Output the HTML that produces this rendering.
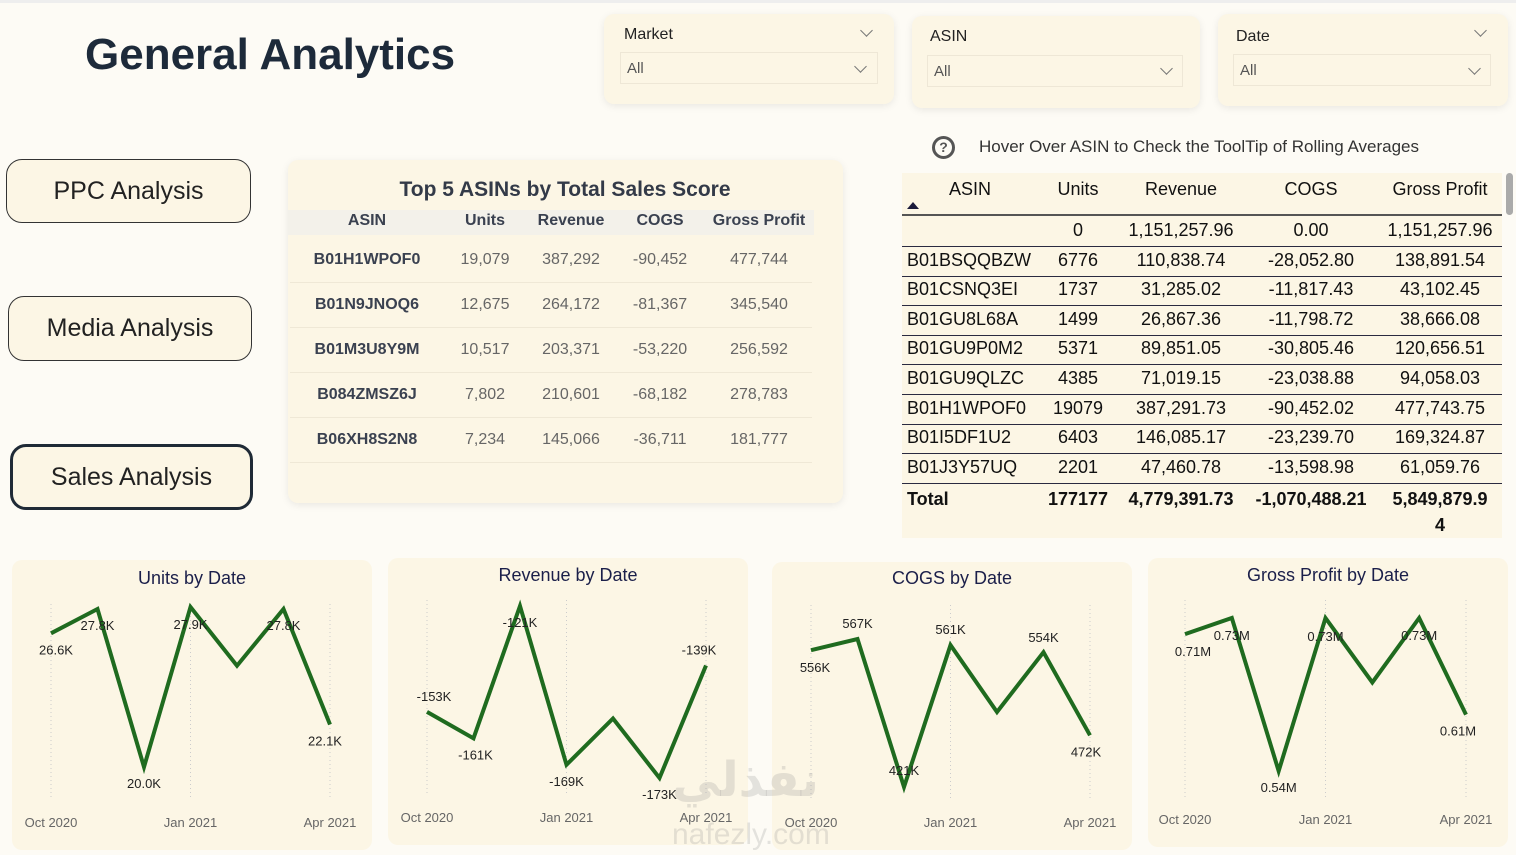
<!DOCTYPE html>
<html><head><meta charset="utf-8">
<style>
*{box-sizing:border-box;margin:0;padding:0}
body{width:1516px;height:855px;background:#fdfbf5;font-family:"Liberation Sans","DejaVu Sans",sans-serif;position:relative;overflow:hidden;color:#222}
.abs{position:absolute}
.card{position:absolute;background:#fcf6e5;border-radius:10px;box-shadow:0 2px 8px rgba(0,0,0,0.08)}
.btn{position:absolute;background:#fcf6e5;border:1px solid #333;border-radius:16px;display:flex;align-items:center;justify-content:center;font-size:25px;color:#222}
.slab{font-size:16px;color:#222;position:absolute}
.sbox{position:absolute;border:1px solid #eee7d6;background:#fcf6e5;font-size:15px;color:#555;padding-left:6px;display:flex;align-items:center}
.chev{position:absolute;width:9px;height:9px;border-right:1.3px solid #777;border-bottom:1.3px solid #777;transform:rotate(45deg)}
.t5 div{position:absolute;transform:translateX(-50%);white-space:nowrap}
.rt{position:absolute;font-size:18px;color:#111;white-space:nowrap}
.rline{position:absolute;left:902px;width:600px;height:1px;background:#2a2a40}
</style></head><body>
<div class="abs" style="left:0;top:0;width:1516px;height:3px;background:#eee"></div>
<div class="abs" style="left:85px;top:30px;font-size:44px;font-weight:bold;color:#1d2a3a">General Analytics</div>

<div class="card" style="left:604px;top:14px;width:290px;height:90px">
 <div class="slab" style="left:20px;top:12px">Market</div><div class="chev" style="left:258px;top:12px"></div>
 <div class="sbox" style="left:16px;top:38px;width:258px;height:32px">All</div><div class="chev" style="left:252px;top:48px"></div>
</div>
<div class="card" style="left:912px;top:16px;width:288px;height:92px">
 <div class="slab" style="left:18px;top:12px">ASIN</div>
 <div class="sbox" style="left:15px;top:39px;width:256px;height:32px">All</div><div class="chev" style="left:250px;top:48px"></div>
</div>
<div class="card" style="left:1218px;top:14px;width:290px;height:92px">
 <div class="slab" style="left:18px;top:14px">Date</div><div class="chev" style="left:258px;top:12px"></div>
 <div class="sbox" style="left:15px;top:40px;width:258px;height:32px">All</div><div class="chev" style="left:252px;top:50px"></div>
</div>

<div class="btn" style="left:6px;top:159px;width:245px;height:64px">PPC Analysis</div>
<div class="btn" style="left:8px;top:296px;width:244px;height:65px">Media Analysis</div>
<div class="btn" style="left:10px;top:444px;width:243px;height:66px;border:3px solid #1f2a36">Sales Analysis</div>

<div class="card t5" style="left:288px;top:160px;width:555px;height:343px">
 <div style="left:277px;top:18px;font-size:21px;font-weight:bold;color:#333a48">Top 5 ASINs by Total Sales Score</div>
 <div style="left:263px;top:50px;width:526px;height:25px;background:#f3f1ea"></div>
</div>
<div id="t5"></div>

<div class="abs" style="left:932px;top:136px;width:23px;height:23px;border:3px solid #555;border-radius:50%;font-size:14px;font-weight:bold;text-align:center;line-height:17px;color:#555">?</div>
<div class="abs" style="left:979px;top:137px;font-size:17px;color:#333">Hover Over ASIN to Check the ToolTip of Rolling Averages</div>
<div class="abs" style="left:902px;top:173px;width:600px;height:365px;background:#fcf6e5"></div>
<div class="abs" style="left:1506px;top:173px;width:7px;height:42px;background:#aaa;border-radius:4px"></div>
<div class="abs" style="left:907px;top:202px;width:0;height:0;border-left:6px solid transparent;border-right:6px solid transparent;border-bottom:7px solid #1a1a3a"></div>
<div id="rt"></div>

<div id="charts"></div>
<div class="abs" style="left:672px;top:752px;font-size:48px;font-weight:bold;color:rgba(150,150,150,0.25)">نفذلي</div>
<div class="abs" style="left:672px;top:818px;font-size:30px;color:rgba(150,150,150,0.25)">nafezly.com</div>

<script>
const t5Headers=["ASIN","Units","Revenue","COGS","Gross Profit"];
const t5Asin=["B01H1WPOF0","B01N9JNOQ6","B01M3U8Y9M","B084ZMSZ6J","B06XH8S2N8"];
const t5Units=["19,079","12,675","10,517","7,802","7,234"];
const t5Rev=["387,292","264,172","203,371","210,601","145,066"];
const t5Cogs=["-90,452","-81,367","-53,220","-68,182","-36,711"];
const t5Gp=["477,744","345,540","256,592","278,783","181,777"];
(function(){
 const c=document.getElementById('t5');const xs=[367,485,571,660,759];
 const add=(txt,x,y,st,name)=>{const d=document.createElement('div');d.className='abs';d.textContent=txt;
  d.style.cssText=`left:${x}px;top:${y}px;transform:translateX(-50%);white-space:nowrap;${st}`;
  
  c.appendChild(d);};
 t5Headers.forEach((h,i)=>add(h,xs[i],212,'font-size:16px;font-weight:bold;color:#3a4150','top5-header'));
 const cols=[t5Asin,t5Units,t5Rev,t5Cogs,t5Gp];
 t5Asin.forEach((a,r)=>{const y=251+r*45;
  cols.forEach((col,i)=>add(col[r],xs[i],y,i==0?'font-size:16px;font-weight:bold;color:#3a4150':'font-size:16px;color:#666','top5-cell'));
  const l=document.createElement('div');l.className='abs';l.style.cssText=`left:290px;top:${y+31}px;width:522px;height:1px;background:#efe8d6`;
  
  c.appendChild(l);});
})();

const rtAsin=["","B01BSQQBZW","B01CSNQ3EI","B01GU8L68A","B01GU9P0M2","B01GU9QLZC","B01H1WPOF0","B01I5DF1U2","B01J3Y57UQ"];
const rtUnits=["0","6776","1737","1499","5371","4385","19079","6403","2201"];
const rtRev=["1,151,257.96","110,838.74","31,285.02","26,867.36","89,851.05","71,019.15","387,291.73","146,085.17","47,460.78"];
const rtCogs=["0.00","-28,052.80","-11,817.43","-11,798.72","-30,805.46","-23,038.88","-90,452.02","-23,239.70","-13,598.98"];
const rtGp=["1,151,257.96","138,891.54","43,102.45","38,666.08","120,656.51","94,058.03","477,743.75","169,324.87","61,059.76"];
const rtTotal=["Total","177177","4,779,391.73","-1,070,488.21","5,849,879.9"];
(function(){
 const c=document.getElementById('rt');const centers=[null,1078,1181,1311,1440];
 const add=(txt,x,y,align,st,name)=>{const d=document.createElement('div');d.className='rt';d.textContent=txt;
  d.style.cssText+=(align=='l'?`left:${x}px;`:`left:${x}px;transform:translateX(-50%);`)+`top:${y}px;`+st;
  
  c.appendChild(d);};
 [["ASIN",970],["Units",1078],["Revenue",1181],["COGS",1311],["Gross Profit",1440]].forEach(h=>add(h[0],h[1],179,'c','','table-header'));
 const ln=(y,h,col,name)=>{const l=document.createElement('div');l.className='rline';l.style.top=y+'px';l.style.height=h+'px';l.style.background=col;
  
  c.appendChild(l);};
 ln(214,2,'#555','header-line');
 const cols=[rtAsin,rtUnits,rtRev,rtCogs,rtGp];
 rtAsin.forEach((a,r)=>{const y=220+r*29.6;
  cols.forEach((col,i)=>add(col[r],i==0?907:centers[i],y,i==0?'l':'c','','table-cell'));
  ln(y+26,1,'#2a2a40','row-line');});
 rtTotal.forEach((t,i)=>add(t,i==0?907:centers[i],489,i==0?'l':'c','font-weight:bold','total-cell'));
 add("4",1440,515,'c','font-weight:bold','total-wrap');
})();

// charts
const months=["Oct 2020","Nov 2020","Dec 2020","Jan 2021","Feb 2021","Mar 2021","Apr 2021"];
const unitsVals=[26.6,27.8,20.0,27.9,25.0,27.8,22.1];
const unitsLabels=["26.6K","27.8K","20.0K","27.9K","","27.8K","22.1K"];
const revVals=[-153,-161,-121,-169,-155,-173,-139];
const revLabels=["-153K","-161K","-121K","-169K","","-173K","-139K"];
const cogsVals=[556,567,421,561,495,554,472];
const cogsLabels=["556K","567K","421K","561K","","554K","472K"];
const gpVals=[0.71,0.73,0.54,0.73,0.65,0.73,0.61];
const gpLabels=["0.71M","0.73M","0.54M","0.73M","","0.73M","0.61M"];
const tickIdx=[0,3,6];

const chartDefs=[
 {name:"units",title:"Units by Date",card:[12,560,360,290],titleY:578,x0:51,x1:330,ytop:607,ybot:767,vals:unitsVals,labels:unitsLabels,tickY:822,gTop:604,gBot:800,
  lo:[[5,16],[0,16],[0,16],[0,17],[0,0],[0,16],[-5,16]]},
 {name:"revenue",title:"Revenue by Date",card:[388,558,360,287],titleY:575,x0:427,x1:706,ytop:606,ybot:778,vals:revVals,labels:revLabels,tickY:817,gTop:600,gBot:795,
  lo:[[7,-16],[2,16],[0,16],[0,16],[0,0],[0,16],[-7,-16]]},
 {name:"cogs",title:"COGS by Date",card:[772,562,360,288],titleY:578,x0:811,x1:1090,ytop:639,ybot:787,vals:cogsVals,labels:cogsLabels,tickY:822,gTop:605,gBot:800,
  lo:[[4,17],[0,-16],[0,-17],[0,-16],[0,0],[0,-15],[-4,16]]},
 {name:"gross-profit",title:"Gross Profit by Date",card:[1148,558,360,289],titleY:575,x0:1185,x1:1466,ytop:618,ybot:771,vals:gpVals,labels:gpLabels,tickY:819,gTop:600,gBot:798,
  lo:[[8,17],[0,17],[0,16],[0,18],[0,0],[0,17],[-8,16]]}
];
(function(){
 const NS="http://www.w3.org/2000/svg";
 const svg=document.createElementNS(NS,'svg');
 svg.setAttribute('width','1516');svg.setAttribute('height','855');
 svg.style.cssText='position:absolute;left:0;top:0';
 
 
 const el=(t,a)=>{const e=document.createElementNS(NS,t);for(const k in a)e.setAttribute(k,a[k]);svg.appendChild(e);return e;};
 chartDefs.forEach(cd=>{
  const [cx,cy,cw,ch]=cd.card;
  const r=el('rect',{x:cx,y:cy,width:cw,height:ch,rx:10,fill:'#fcf6e5'});
  
  
  const t=el('text',{x:cx+cw/2,y:cd.titleY+6,'text-anchor':'middle','font-size':18,fill:'#1b1f4a','font-family':'Liberation Sans, sans-serif'});
  t.textContent=cd.title;
  
  
  const v=cd.vals,mx=Math.max(...v),mn=Math.min(...v);
  const xf=i=>cd.x0+(cd.x1-cd.x0)*i/(v.length-1);
  const yf=val=>cd.ytop+(mx-val)/(mx-mn)*(cd.ybot-cd.ytop);
  tickIdx.forEach(i=>{
   const g=el('line',{x1:xf(i),x2:xf(i),y1:cd.gTop,y2:cd.gBot,stroke:'#ccc','stroke-dasharray':'1,3'});
   
   
   const tk=el('text',{x:xf(i),y:cd.tickY+5,'text-anchor':'middle','font-size':13,fill:'#666','font-family':'Liberation Sans, sans-serif'});
   tk.textContent=months[i];
   
   
  });
  const pl=el('polyline',{points:v.map((val,i)=>xf(i)+','+yf(val)).join(' '),fill:'none',stroke:'#1f6b1f','stroke-width':4,'stroke-linejoin':'miter'});
  
  
  v.forEach((val,i)=>{ if(!cd.labels[i])return;
   const tx=el('text',{x:xf(i)+cd.lo[i][0],y:yf(val)+cd.lo[i][1]+5,'text-anchor':'middle','font-size':13,fill:'#222','font-family':'Liberation Sans, sans-serif'});
   tx.textContent=cd.labels[i];
   
   
  });
 });
 document.getElementById('charts').appendChild(svg);
})();
</script>
</body></html>
